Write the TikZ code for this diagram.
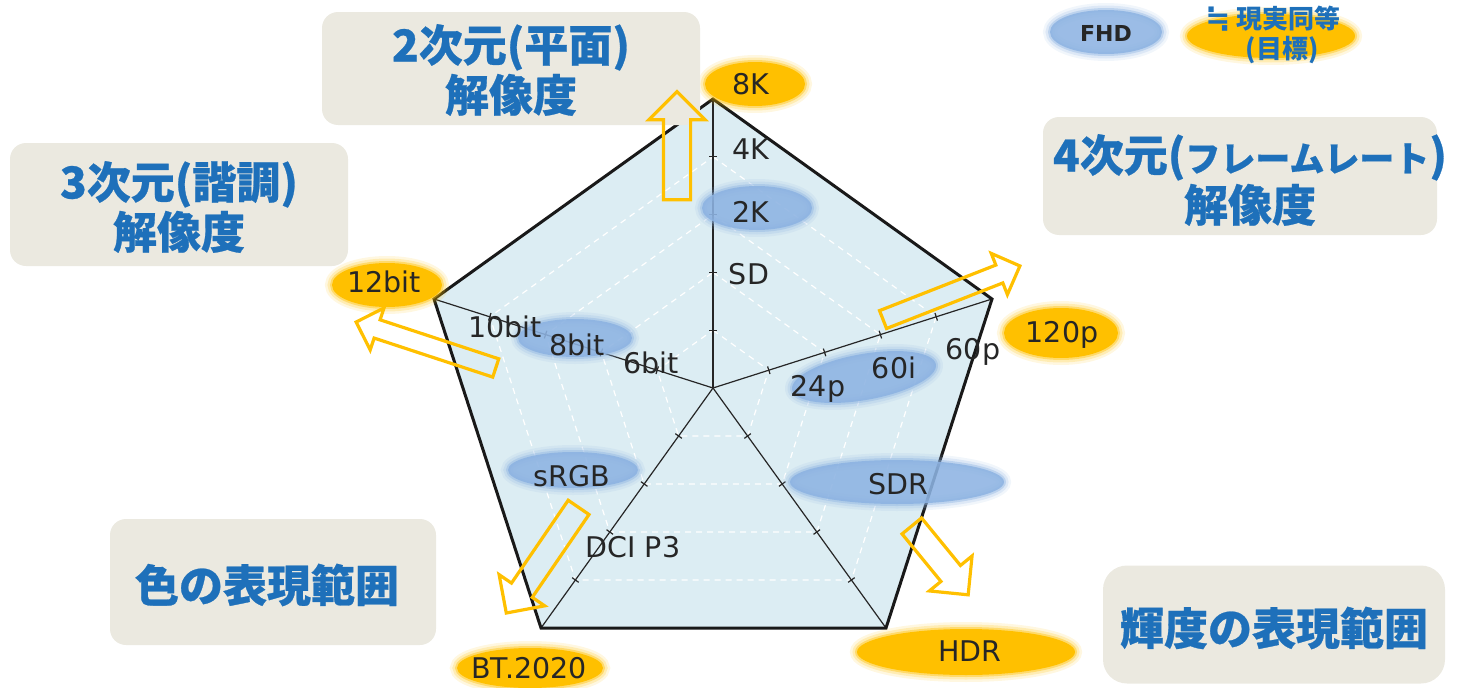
\documentclass[tikz,border=0pt]{standalone}
\usepackage{fontspec}
\setmainfont{DejaVu Sans}
\newfontfamily\cjk{Noto Sans CJK JP}[BoldFeatures={FakeBold=0.6}]
\newfontfamily\cjkl{Noto Sans CJK JP}
\newfontfamily\symf{DejaVu Sans}
\usetikzlibrary{shapes.geometric,shapes.arrows,calc}
\definecolor{gold}{HTML}{FFC000}
\definecolor{blobc}{HTML}{8DB3E2}
\definecolor{pfill}{HTML}{DCEDF3}
\definecolor{boxgray}{HTML}{EBE9E0}
\definecolor{jblue}{HTML}{1E70BA}
\definecolor{ink}{HTML}{262626}
\tikzset{
  gridline/.style={white, line width=1.2pt, dash pattern=on 6pt off 5pt},
  axisline/.style={ink, line width=1.2pt},
  border/.style={black!90, line width=3pt, line join=miter},
  blobO/.style={ellipse, inner sep=0pt, fill=gold, draw=gold, draw opacity=0.4, line width=4pt,
    preaction={draw=gold, draw opacity=0.12, line width=14pt},
    preaction={draw=gold, draw opacity=0.2, line width=9pt}},
  blobB/.style={ellipse, inner sep=0pt, fill=blobc, fill opacity=0.88, draw=blobc, draw opacity=0.4, line width=4pt,
    preaction={draw=blobc, draw opacity=0.12, line width=14pt},
    preaction={draw=blobc, draw opacity=0.2, line width=9pt}},
  lab/.style={inner sep=0pt, text=ink, font=\fontsize{28.5pt}{30pt}\selectfont, text height=21pt, text depth=0pt},
  gbox/.style={fill=boxgray, rounded corners=16pt, inner sep=0pt},
  btext/.style={inner sep=0pt, text=jblue, align=center, font=\cjk\bfseries\fontsize{44pt}{50pt}\selectfont},
  gtext/.style={inner sep=0pt, text=jblue, font=\cjkl\bfseries\fontsize{26pt}{26pt}\selectfont},
  harrow/.style={single arrow, draw=gold, line width=3.2pt, inner xsep=0pt, single arrow head indent=0pt, line join=miter},
}
\begin{document}
\begin{tikzpicture}[x=1pt,y=-1pt]
\useasboundingbox (0,0) rectangle (1473,688);
% pentagon geometry
\coordinate (O) at (713,388);
\coordinate (T) at (713,99);
\coordinate (UR) at (992,299);
\coordinate (LR) at (886,628);
\coordinate (LL) at (541,628);
\coordinate (UL) at (434,299);
\fill[pfill] (T) -- (UR) -- (LR) -- (LL) -- (UL) -- cycle;
\foreach \f in {0.2,0.4,0.6,0.8}
  \draw[gridline] ($(O)!\f!(T)$) -- ($(O)!\f!(UR)$) -- ($(O)!\f!(LR)$) -- ($(O)!\f!(LL)$) -- ($(O)!\f!(UL)$) -- cycle;
\foreach \v in {T,UR,LR,LL,UL}{
  \draw[axisline] (O) -- (\v);
  \foreach \f in {0.2,0.4,0.6,0.8}{
    \coordinate (P) at ($(O)!\f!(\v)$);
    \draw[axisline] ($(P)!4pt!90:(\v)$) -- ($(P)!4pt!-90:(\v)$);
  }
}
\draw[border] (T) -- (UR) -- (LR) -- (LL) -- (UL) -- cycle;
% glowing ellipses
\node[blobO, minimum width=100pt, minimum height=44pt] (b8K) at (755,84) {};
\node[blobB, minimum width=110pt, minimum height=44pt] (b2K) at (757,208) {};
\node[blobO, minimum width=110pt, minimum height=44pt] (b12) at (387,285) {};
\node[blobB, minimum width=114pt, minimum height=38pt] (b8bit) at (575,338) {};
\node[blobB, minimum width=146pt, minimum height=46pt, rotate=10] (b60i) at (864,377) {};
\node[blobO, minimum width=114pt, minimum height=50pt] (b120) at (1061,333) {};
\node[blobB, minimum width=214pt, minimum height=44pt] (bSDR) at (897,482) {};
\node[blobO, minimum width=218pt, minimum height=46pt] (bHDR) at (966,652) {};
\node[blobB, minimum width=130pt, minimum height=36pt] (bsRGB) at (573,470) {};
\node[blobO, minimum width=146pt, minimum height=40pt] (bBT) at (530,668) {};
\node[blobB, minimum width=112pt, minimum height=44pt] (bFHD) at (1106,32) {};
\node[blobO, minimum width=168pt, minimum height=44pt] (bGoal) at (1271,36) {};
% grey boxes
\node[gbox, minimum width=378pt, minimum height=113pt] (box1) at (511,68.5) {};
\node[gbox, minimum width=338pt, minimum height=123pt] (box2) at (179,204.5) {};
\node[gbox, minimum width=394pt, minimum height=118pt] (box3) at (1240,176) {};
\node[gbox, minimum width=326pt, minimum height=126pt] (box4) at (273,582) {};
\node[gbox, minimum width=342pt, minimum height=118pt, rounded corners=24pt] (box5) at (1274,624.5) {};
\node[btext] (t1) at (511,70) {2次元(平面)\\解像度};
\node[btext] (t2) at (179,207) {3次元(諧調)\\解像度};
\node[btext] (t3) at (1250,180) {4次元({\fontsize{35pt}{50pt}\selectfont フレームレート})\\解像度};
\node[btext] (t4) at (267,585) {色の表現範囲};
\node[btext] (t5) at (1274,628) {輝度の表現範囲};
% hollow arrows
\node[harrow, inner ysep=12pt, minimum height=108pt, minimum width=53pt, single arrow head extend=14.5pt, rotate=90] (a1) at (677,152.5) {};
\node[harrow, inner ysep=8pt, minimum height=147pt, minimum width=41pt, single arrow head extend=12.5pt, rotate=161.8] (a2) at (430.5,346.5) {};
\node[harrow, inner ysep=8pt, minimum height=147pt, minimum width=41pt, single arrow head extend=12.5pt, rotate=21.4] (a3) at (947,294.5) {};
\node[harrow, inner ysep=11pt, minimum height=128pt, minimum width=52pt, single arrow head extend=15pt, rotate=235.6] (a4) at (546,555) {};
\node[harrow, inner ysep=11pt, minimum height=89pt, minimum width=52pt, single arrow head extend=15pt, rotate=-50.7] (a5) at (936,555.5) {};
% axis labels
\node[lab] (l8K) at (751,84) {8K};
\node[lab] (l4K) at (751,149) {4K};
\node[lab] (l2K) at (751,212) {2K};
\node[lab] (lSD) at (749,274) {SD};
\node[lab] (l12) at (384,282) {12bit};
\node[lab] (l10) at (505,327) {10bit};
\node[lab] (l8b) at (577,345) {8bit};
\node[lab] (l6b) at (651,363) {6bit};
\node[lab] (l120) at (1062,332) {120p};
\node[lab] (l60p) at (973,349) {60p};
\node[lab] (l60i) at (894,368) {60i};
\node[lab] (l24p) at (818,386) {24p};
\node[lab] (lSDR) at (898,484) {SDR};
\node[lab] (lHDR) at (970,651) {HDR};
\node[lab] (lsRGB) at (572,476) {sRGB};
\node[lab] (lP3) at (633,547) {DCI P3};
\node[lab] (lBT) at (529,668) {BT.2020};
% legend
\node[inner sep=0pt, text=ink, font=\bfseries\fontsize{22pt}{22pt}\selectfont] (lFHD) at (1106,33) {FHD};
\node[gtext] (lGoalA) at (1273,19) {{\symf\bfseries\fontsize{30pt}{26pt}\selectfont ≒} 現実同等};
\node[gtext] (lGoalB) at (1282,50) {(目標)};
\end{tikzpicture}
\end{document}
